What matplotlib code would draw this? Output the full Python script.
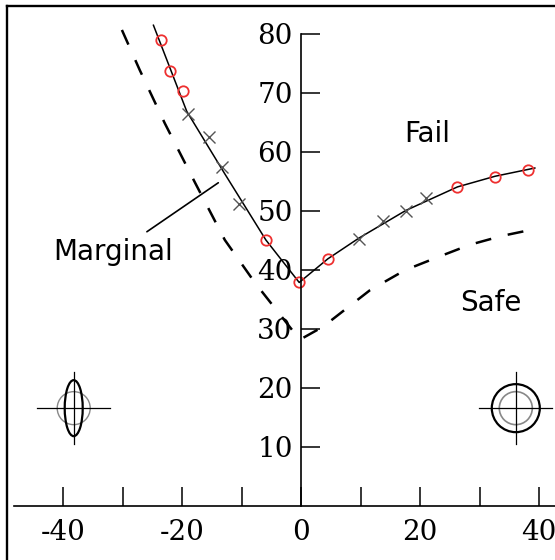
# Failure envelope sketch: solid boundary through the test points,
# dashed design boundary, and the two stress-state glyphs in the corners.

import matplotlib
matplotlib.use('Agg')
import matplotlib.pyplot as plt
from matplotlib.patches import Ellipse
from matplotlib.lines import Line2D

plt.rcParams['axes.unicode_minus'] = False

# Solid boundary (left branch then right branch), smooth through the points
boundary_x = [-24.8, -19.2, -12.8, -5.9, -0.3, 4.5, 9.7, 17.6, 26.3, 32.6, 39.3]
boundary_y = [81.4, 66.8, 56.2, 45.0, 37.8, 41.8, 45.3, 50.0, 54.0, 55.8, 57.2]

# Test points: circles (red) and crosses (grey)
circle_x = [-23.5, -22.1, -19.8, -5.9, -0.3, 4.5, 26.3, 32.6, 38.1]
circle_y = [78.9, 73.6, 70.3, 45.0, 37.8, 41.8, 54.0, 55.6, 56.9]
cross_x = [-19.0, -15.5, -13.2, -10.5, 9.7, 13.7, 17.6, 21.0]
cross_y = [66.3, 62.4, 57.4, 51.1, 45.2, 48.2, 49.9, 52.2]

# Dashed design boundary
design_x = [-30.1, -27.1, -22.9, -17.8, -12.8, -7.7, -0.2, 3.7, 11.6, 17.5, 23.0, 28.4, 33.8, 39.5]
design_y = [80.6, 73.8, 64.8, 54.7, 45.0, 37.7, 28.1, 30.3, 36.5, 39.9, 42.1, 44.2, 45.7, 46.9]

x_ticks = [-40, -30, -20, -10, 0, 10, 20, 30, 40]
x_tick_labels = ['-40', '', '-20', '', '0', '', '20', '', '40']
y_ticks = [10, 20, 30, 40, 50, 60, 70, 80]
y_tick_labels = ['10', '20', '30', '40', '50', '60', '70', '80']

# pixels per data unit (for the glyph sizes)
px_x = 5.95
px_y = 5.9

fig = plt.figure(figsize=(5.55, 5.6), dpi=100)
ax = fig.add_axes([0, 0, 1, 1])
ax.set_xlim(-301 / px_x, 254 / px_x)
ax.set_ylim(-(560 - 505.5) / px_y, 505.5 / px_y)

# axes crossing at the origin
for side in ['top', 'right']:
    ax.spines[side].set_visible(False)
ax.spines['left'].set_position(('data', 0))
ax.spines['bottom'].set_position(('data', 0))
ax.spines['left'].set_bounds(0, 80)
ax.spines['bottom'].set_bounds(-48.2, 43)
for side in ['left', 'bottom']:
    ax.spines[side].set_linewidth(1.2)

ax.set_xticks(x_ticks)
ax.set_xticklabels(x_tick_labels, family='DejaVu Serif', fontsize=20)
ax.set_yticks(y_ticks)
ax.set_yticklabels(y_tick_labels, family='DejaVu Serif', fontsize=20)
ax.tick_params(axis='both', direction='in', length=13.7, width=1.1)
ax.tick_params(axis='x', pad=10)
ax.tick_params(axis='y', pad=6)

# curves and points
ax.plot(design_x, design_y, color='black', lw=1.8, linestyle=(0, (6.4, 6.8)))
ax.plot(boundary_x, boundary_y, color='black', lw=1.1)
ax.plot(cross_x, cross_y, linestyle='none', marker='x', ms=8, mew=1.0, color='#555555')
ax.plot(circle_x, circle_y, linestyle='none', marker='o', ms=7.5, mew=1.3,
        mfc='none', mec='#ee3030')

# region labels
ax.text(21.2, 63.0, 'Fail', fontsize=20, ha='center', va='center')
ax.text(31.9, 34.3, 'Safe', fontsize=20, ha='center', va='center')
ax.text(-31.6, 43.0, 'Marginal', fontsize=20, ha='center', va='center')
ax.annotate('', xy=(-13.9, 54.7), xytext=(-25.9, 46.4),
            arrowprops=dict(arrowstyle='-', color='black', lw=1.2,
                            shrinkA=0, shrinkB=0))

# stress-state glyphs
def crosshair(cx, cy):
    ax.plot([cx - 36.5 / px_x, cx + 36.5 / px_x], [cy, cy], color='black', lw=0.9)
    ax.plot([cx, cx], [cy - 36 / px_y, cy + 36 / px_y], color='black', lw=0.9)

crosshair(-38.2, 16.5)
ax.add_patch(Ellipse((-38.2, 16.5), 33 / px_x, 33 / px_y, fill=False,
                     edgecolor='#888888', lw=1.0))
ax.add_patch(Ellipse((-38.2, 16.5), 18 / px_x, 56 / px_y, fill=False,
                     edgecolor='black', lw=1.6))

crosshair(36.1, 16.5)
ax.add_patch(Ellipse((36.1, 16.5), 33 / px_x, 33 / px_y, fill=False,
                     edgecolor='#888888', lw=1.2))
ax.add_patch(Ellipse((36.1, 16.5), 48 / px_x, 48 / px_y, fill=False,
                     edgecolor='black', lw=1.6))

# frame on the left and top edges
fig.add_artist(Line2D([7 / 555, 7 / 555], [0, 1 - 5.5 / 560], color='black', lw=1.7))
fig.add_artist(Line2D([7 / 555, 1], [1 - 5.5 / 560, 1 - 5.5 / 560], color='black', lw=1.7))

plt.savefig('out.png', dpi=100)
